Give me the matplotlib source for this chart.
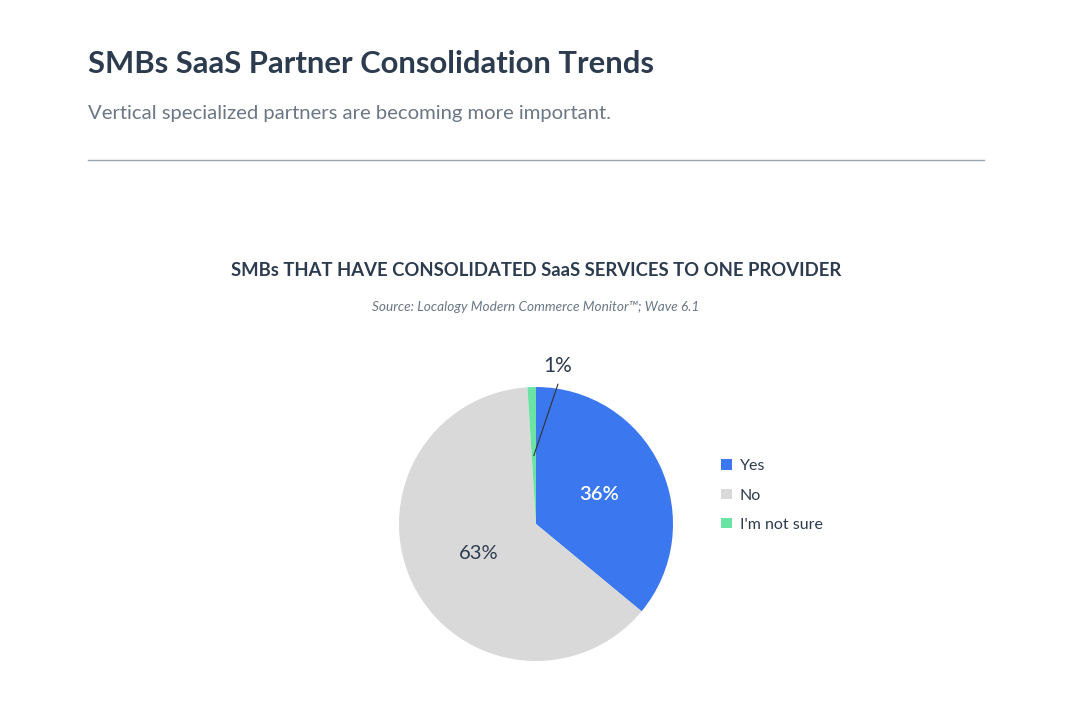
import numpy as np
import matplotlib.pyplot as plt

# --- Data ---
categories = ["Yes", "No", "I'm not sure"]
shares = [36, 63, 1]
colors = ["#3B78F0", "#D9D9D9", "#6BE3A4"]
label_colors = ["white", "#2D3B4E", "#2D3B4E"]

title = "SMBs SaaS Partner Consolidation Trends"
subtitle = "Vertical specialized partners are becoming more important."
chart_title = "SMBs THAT HAVE CONSOLIDATED SaaS SERVICES TO ONE PROVIDER"
source = "Source: Localogy Modern Commerce Monitor\u2122; Wave 6.1"

plt.rcParams['font.family'] = ['Lato', 'DejaVu Sans']

W, H = 1070, 716
fig = plt.figure(figsize=(W / 100, H / 100), dpi=100)
fig.patch.set_facecolor("white")

dark = "#2D3B4E"
grey = "#6B7785"

# header
fig.text(88 / W, 1 - 64 / H, title, fontsize=22.3, fontweight="bold", color=dark, va="center", ha="left")
fig.text(88 / W, 1 - 113 / H, subtitle, fontsize=14.6, color=grey, va="center", ha="left")
fig.add_artist(plt.Line2D([88 / W, 984 / W], [1 - 160 / H, 1 - 160 / H], color="#9AA5B1", lw=1))

fig.text(536 / W, 1 - 270 / H, chart_title, fontsize=13.3, fontweight="bold", color=dark, va="center", ha="center")
fig.text(536 / W, 1 - 307 / H, source, fontsize=9.8, style="italic", color=grey, va="center", ha="center")

# pie
cx, cy, r = 536, 524, 137
ax = fig.add_axes([(cx - r) / W, (H - cy - r) / H, 2 * r / W, 2 * r / H])
wedges, _ = ax.pie(shares, colors=colors, startangle=90, counterclock=False, radius=1,
                   wedgeprops=dict(linewidth=0))
ax.set_xlim(-1, 1)
ax.set_ylim(-1, 1)
ax.set_aspect("auto")
ax.axis("off")

label_dist = [0.51, 0.47, 0.5]
for i, w in enumerate(wedges):
    mid = np.deg2rad((w.theta1 + w.theta2) / 2)
    txt = f"{shares[i]}%"
    d = label_dist[i]
    if shares[i] >= 5:
        ax.text(d * np.cos(mid), d * np.sin(mid), txt, ha="center", va="center",
                fontsize=14.5, color=label_colors[i],
                fontweight="semibold" if label_colors[i] == "white" else "normal")
    else:
        x0, y0 = d * np.cos(mid), d * np.sin(mid)
        ax.plot([x0, 0.16], [y0, 1.02], color="#333333", lw=0.8, clip_on=False)
        ax.text(0.155, 1.08, txt, ha="center", va="bottom", fontsize=15, color=dark, clip_on=False)

leg = fig.legend(wedges, categories, loc="upper left", bbox_to_anchor=(707 / W, 1 - 445 / H),
                 frameon=False, fontsize=11.5, handlelength=0.65, handleheight=0.65,
                 handletextpad=0.5, labelspacing=0.95)
for t in leg.get_texts():
    t.set_color(dark)

fig.savefig("out.png", dpi=100, facecolor="white")
